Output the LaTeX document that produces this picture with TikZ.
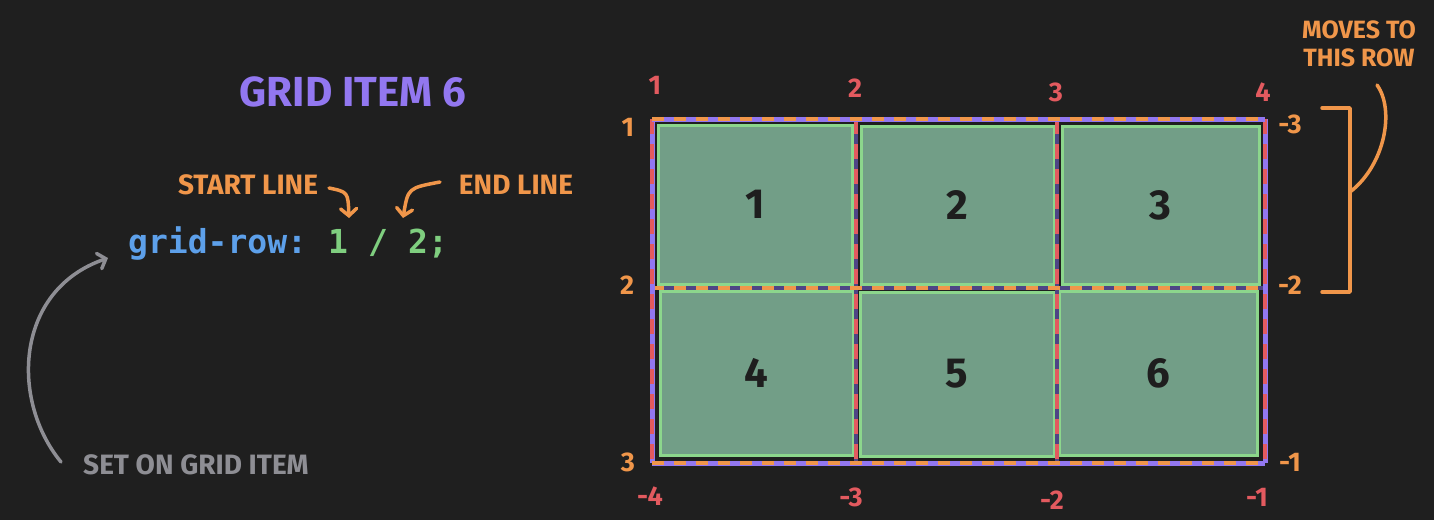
\documentclass[tikz,border=0pt]{standalone}
\usepackage{fontspec}
\setmainfont{Fira Sans}
\setmonofont{DejaVu Sans Mono}
\usetikzlibrary{arrows.meta}
\definecolor{bg}{HTML}{1F1F1F}
\definecolor{cellfill}{HTML}{729E87}
\definecolor{cellline}{HTML}{8CD68C}
\definecolor{ink}{HTML}{1E1E1E}
\definecolor{lred}{HTML}{E35A5F}
\definecolor{lorange}{HTML}{F0964A}
\definecolor{lpurple}{HTML}{9277F0}
\definecolor{dpurple}{HTML}{4E4585}
\definecolor{codeblue}{HTML}{5DA0EA}
\definecolor{codegreen}{HTML}{7FCE7F}
\definecolor{lgray}{HTML}{8E8E94}
\tikzset{
  cell/.style={draw=cellline, line width=3pt, fill=cellfill, inner sep=0pt,
    text=ink, font=\bfseries\fontsize{42}{42}\selectfont},
  collab/.style={text=lred, font=\bfseries\fontsize{27}{27}\selectfont, inner sep=0pt},
  rowlab/.style={text=lorange, font=\bfseries\fontsize{27}{27}\selectfont, inner sep=0pt},
  note/.style={text=lorange, font=\bfseries\fontsize{28}{28}\selectfont, inner sep=0pt},
  code/.style={font=\ttfamily\bfseries\fontsize{33}{33}\selectfont, inner sep=0pt, anchor=base west},
  purpleline/.style={draw=lpurple, line width=5pt},
  darkline/.style={draw=dpurple, line width=4pt},
  odash/.style={draw=lorange, line width=4pt, dash pattern=on 12pt off 10pt},
  rdash/.style={draw=lred, line width=4pt, dash pattern=on 15pt off 10pt},
  orangepen/.style={draw=lorange, line width=3.5pt, line cap=round},
  graypen/.style={draw=lgray, line width=3.5pt, line cap=round},
  arr/.style={-{Straight Barb[length=7pt,width=16pt,line cap=round]}, line join=round},
}
\begin{document}
\begin{tikzpicture}[x=1pt,y=-1pt]
\useasboundingbox[fill=bg] (0,0) rectangle (1434,520);

% cells
\node[cell, minimum width=194pt, minimum height=159pt] (c1) at (755,204.5) {1};
\node[cell, minimum width=193pt, minimum height=158pt] (c2) at (957.5,205) {2};
\node[cell, minimum width=197pt, minimum height=158pt] (c3) at (1160.5,205) {3};
\node[cell, minimum width=193pt, minimum height=164pt] (c4) at (756.5,373) {4};
\node[cell, minimum width=194pt, minimum height=164pt] (c5) at (957,374) {5};
\node[cell, minimum width=198pt, minimum height=164pt] (c6) at (1158,373) {6};

% grid corner coordinates
\coordinate (tl) at (652,119);
\coordinate (tr) at (1265,119);
\coordinate (bl) at (652,463);
\coordinate (br) at (1265,463);
\coordinate (t2) at (856,119);
\coordinate (b2) at (856,463);
\coordinate (t3) at (1057,119);
\coordinate (b3) at (1057,463);
\coordinate (ml) at (652,288);
\coordinate (mr) at (1265,288);

% inner lines
\draw[darkline] (t2) -- (b2);
\draw[darkline] (t3) -- (b3);
\draw[rdash] (t2) -- (b2);
\draw[rdash] (t3) -- (b3);
\draw[darkline] (ml) -- (mr);
\draw[odash] (ml) -- (mr);
% outer lines
\draw[purpleline] (tl) -- (bl);
\draw[purpleline] (tr) -- (br);
\draw[rdash] (tl) -- (bl);
\draw[rdash] (tr) -- (br);
\draw[purpleline] (tl) -- (tr);
\draw[purpleline] (bl) -- (br);
\draw[odash] (tl) -- (tr);
\draw[odash] (bl) -- (br);

% column labels
\node[collab] (ct1) at (655,85) {1};
\node[collab] (ct2) at (855,88) {2};
\node[collab] (ct3) at (1056,92) {3};
\node[collab] (ct4) at (1263,92) {4};
\node[collab] (cb1) at (650,496) {-4};
\node[collab] (cb2) at (851,497) {-3};
\node[collab] (cb3) at (1052,500) {-2};
\node[collab] (cb4) at (1257,497) {-1};
% row labels
\node[rowlab] (rl1) at (628,127) {1};
\node[rowlab] (rl2) at (627,285) {2};
\node[rowlab] (rl3) at (628,462) {3};
\node[rowlab] (rr1) at (1290,124) {-3};
\node[rowlab] (rr2) at (1290,285) {-2};
\node[rowlab] (rr3) at (1290,462) {-1};

% bracket and note
\coordinate (bk1) at (1322,108);
\coordinate (bk2) at (1350,108);
\coordinate (bk3) at (1350,292);
\coordinate (bk4) at (1322,292);
\coordinate (bkm) at (1350,192);
\draw[orangepen, line join=round] (bk1) -- (bk2) -- (bk3) -- (bk4);
\node[note, align=center, font=\bfseries\fontsize{25}{28}\selectfont] (moves) at (1359,44) {MOVES TO\\THIS ROW};
\coordinate (mv) at (1377,85);
\draw[orangepen] (bkm) .. controls (1385,165) and (1395,110) .. (mv);

% title
\node[text=lpurple, font=\bfseries\fontsize{42}{42}\selectfont, inner sep=0pt] (title) at (353,92) {GRID ITEM 6};

% code line
\node[code, text=codeblue] (prop) at (128,253) {grid-row:};
\node[code, text=codegreen] (v1) at (328,253) {1};
\node[code, text=codegreen] (sl) at (368,253) {/};
\node[code, text=codegreen] (v2) at (408,253) {2;};

% annotations
\node[note] (start) at (248,185) {START LINE};
\node[note] (endl) at (516,185) {END LINE};
\coordinate (sa) at (329,188);
\coordinate (sb) at (349,218);
\coordinate (ea) at (440,182);
\coordinate (eb) at (403,218);
\draw[orangepen, arr] (sa) .. controls (348,192) .. (sb);
\draw[orangepen, arr] (ea) .. controls (408,188) .. (eb);

\node[text=lgray, font=\bfseries\fontsize{28}{28}\selectfont, inner sep=0pt] (setnote) at (196,465) {SET ON GRID ITEM};
\coordinate (ga) at (61,462);
\coordinate (gb) at (108,258);
\draw[graypen, arr] (ga) .. controls (10,400) and (15,290) .. (gb);
\end{tikzpicture}
\end{document}
